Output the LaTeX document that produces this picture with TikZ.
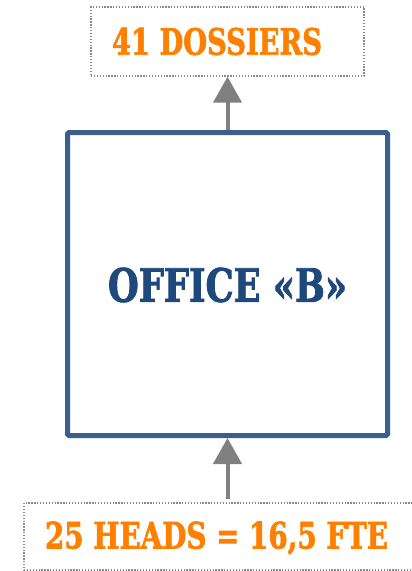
\documentclass[tikz,border=0pt]{standalone}
\usepackage{fontspec}
\setmainfont[BoldFeatures={FakeBold=2}]{DejaVu Serif}
\usetikzlibrary{arrows.meta}
\definecolor{orng}{HTML}{FF7F00}
\definecolor{boxblue}{HTML}{3A5F8D}
\definecolor{txtblue}{HTML}{1F497D}
\definecolor{arrgray}{HTML}{808080}
\definecolor{dotgray}{HTML}{8A8A8A}
\tikzset{
  dotbox/.style={draw=dotgray, line width=1.3pt, dash pattern=on 1.3pt off 1.6pt, inner sep=0pt},
  orangetxt/.style={text=orng, inner sep=0pt, font=\bfseries},
  mainbox/.style={draw=boxblue, line width=5pt, rounded corners=1.5pt, inner sep=0pt},
  flow/.style={draw=arrgray, line width=4pt, -{Triangle[width=28pt,length=26pt]}},
}
\begin{document}
\begin{tikzpicture}[x=1pt,y=-1pt]
\useasboundingbox (0,0) rectangle (412,571);
% top box
\node[dotbox, minimum width=273pt, minimum height=69pt] (tbox) at (227.5,41.5) {};
\node[orangetxt] (ttext) at (217,41.5) {\resizebox{210pt}{27pt}{\bfseries 41 DOSSIERS}};
% main box
\node[mainbox, minimum width=320pt, minimum height=303pt] (main) at (227.5,284) {};
\node[text=txtblue, inner sep=0pt] (mtext) at (227.5,285) {\resizebox{239pt}{34pt}{\bfseries OFFICE «B»}};
% bottom box
\node[dotbox, minimum width=400pt, minimum height=67pt] (bbox) at (224,536.5) {};
\node[orangetxt] (btext) at (216.5,538) {\resizebox{343pt}{27pt}{\bfseries 25 HEADS = 16,5 FTE}};
% arrows
\draw[flow] (main.north) -- (tbox.south);
\draw[flow] (bbox.north -| main.south) ++(0,-3) -- (main.south);
\end{tikzpicture}
\end{document}
